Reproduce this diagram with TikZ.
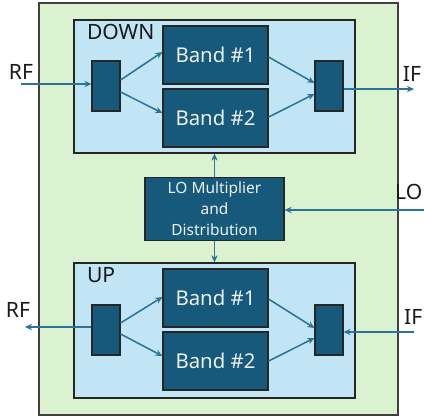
\documentclass[tikz,border=0pt]{standalone}
\usepackage{fontspec}
\setmainfont{Noto Sans}
\usepackage{tikz}
\usetikzlibrary{
    arrows.meta,
    positioning,
    calc
}

\definecolor{blockteal}{HTML}{17597A}
\definecolor{panelblue}{HTML}{C2E5F6}
\definecolor{boardgreen}{HTML}{DAF2D0}
\definecolor{wireteal}{HTML}{2B7497}

\begin{document}
\begin{tikzpicture}[x=0.025cm, y=-0.025cm,
    font=\fontsize{15pt}{17pt}\selectfont,
    board/.style={
        rectangle,
        draw=black!75,
        fill=boardgreen,
        line width=0.8pt,
        inner sep=0pt,
        minimum width=8.975cm,
        minimum height=10.3cm
    },
    panel/.style={
        rectangle,
        draw=black!85,
        fill=panelblue,
        line width=0.9pt,
        inner sep=0pt,
        minimum width=7.025cm
    },
    band/.style={
        rectangle,
        draw=black!85,
        fill=blockteal,
        text=white!92!blockteal,
        line width=0.8pt,
        font=\fontsize{14.5pt}{16pt}\selectfont,
        minimum width=2.625cm,
        minimum height=1.45cm
    },
    mux/.style={
        rectangle,
        draw=black!85,
        fill=blockteal,
        line width=0.8pt,
        minimum width=0.7cm,
        minimum height=1.25cm
    },
    lobox/.style={
        rectangle,
        draw=black!85,
        fill=blockteal,
        text=white!92!blockteal,
        align=center,
        line width=0.8pt,
        font=\fontsize{11pt}{15pt}\selectfont,
        minimum width=3.475cm,
        minimum height=1.55cm
    },
    port/.style={text=black!90, inner sep=1pt},
    wire/.style={-{Stealth[length=5pt,width=4.5pt]}, line width=1.1pt, wireteal}
]
\useasboundingbox (0,0) rectangle (424,417);

% board and the two chains
\node[board] (board) at (218.5,209) {};
\node[panel, minimum height=3.325cm] (down) at (214.5,86.5) {};
\node[panel, minimum height=3.375cm] (up) at (214.5,330.5) {};
\node[port, anchor=north west] (downlbl) at ($(down.north west)+(12,3)$) {DOWN};
\node[port, anchor=north west] (uplbl) at ($(up.north west)+(12,3)$) {UP};

% ===== DOWN chain =====
\node[band] (band1d) at (215.5,55) {Band \#1};
\node[band] (band2d) at (215.5,118) {Band \#2};
\node[mux] (splitd) at (106,86) {};
\node[mux] (combd) at (329,86) {};

\draw[wire] ($(splitd.east)+(0,-6)$) -- ($(band1d.west)+(0,-3)$);
\draw[wire] ($(splitd.east)+(0,6)$) -- ($(band2d.west)+(0,-5)$);
\draw[wire] ($(band1d.east)+(0,2)$) -- ($(combd.west)+(0,-3)$);
\draw[wire] ($(band2d.east)+(0,-1)$) -- ($(combd.west)+(0,8)$);

% ===== LO =====
\node[lobox] (lo) at (214.5,209) {LO Multiplier\\and\\Distribution};
\draw[wire] (lo.north) -- (down.south);
\draw[wire] (lo.south) -- (up.north);

% ===== UP chain =====
\node[band] (band1u) at (215.5,298) {Band \#1};
\node[band] (band2u) at (215.5,361) {Band \#2};
\node[mux] (splitu) at (106,330) {};
\node[mux] (combu) at (329,330) {};

\draw[wire] ($(splitu.east)+(0,-7)$) -- ($(band1u.west)+(0,-1)$);
\draw[wire] ($(splitu.east)+(0,4)$) -- ($(band2u.west)+(0,-5)$);
\draw[wire] ($(band1u.east)+(0,1)$) -- ($(combu.west)+(0,-2)$);
\draw[wire] (band2u.east) -- ($(combu.west)+(0,8)$);

% ports
\coordinate (rfin) at (21,84);
\coordinate (ifout) at (414,89);
\coordinate (loin) at (426,210);
\coordinate (rfout) at (25,327);
\coordinate (ifin) at (414,332);

\draw[wire] (rfin) -- (rfin -| splitd.west);
\draw[wire] (ifout -| combd.east) -- (ifout);
\draw[wire] (loin) -- (loin -| lo.east);
\draw[wire] (rfout -| splitu.west) -- (rfout);
\draw[wire] (ifin) -- (ifin -| combu.east);

\node[port] (rfdlbl) at (21,72) {RF};
\node[port] (ifdlbl) at (412,74) {IF};
\node[port, anchor=east] (lolbl) at (424,192) {LO};
\node[port] (rfulbl) at (18,310) {RF};
\node[port, anchor=east] (ifulbl) at (424,317) {IF};

\end{tikzpicture}
\end{document}
